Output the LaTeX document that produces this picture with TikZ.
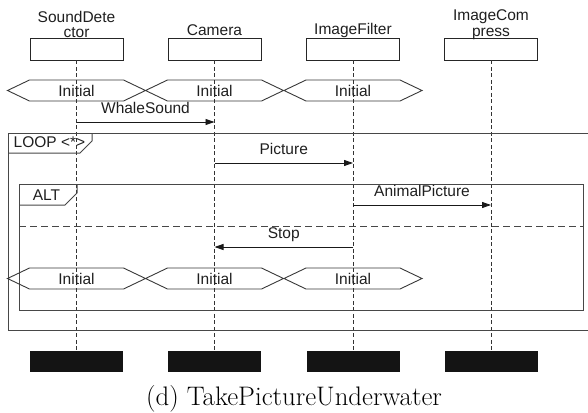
\documentclass[tikz,border=0pt]{standalone}
\usepackage{fontspec}
\setsansfont{Liberation Sans}
\usetikzlibrary{arrows.meta,calc}
\newcommand\hexaround[1]{\draw[hexline] ($(#1)+(-69,0)$) -- ++(22,-10.5) -- ++(94,0) -- ++(22,10.5) -- ++(-22,10.5) -- ++(-94,0) -- cycle;}
\begin{document}
\begin{tikzpicture}[x=1pt,y=-1pt,
  lbl/.style={font=\sffamily\fontsize{15.5}{15.5}\selectfont, inner sep=0pt, text=black!88},
  mlbl/.style={lbl, text height=11pt, text depth=3pt},
  headbox/.style={draw=black!85, line width=0.9pt, minimum width=93pt, minimum height=22pt, inner sep=0pt},
  endbar/.style={fill=black!92, draw=none, minimum width=93pt, minimum height=21pt, inner sep=0pt},
  lifeline/.style={draw=black!80, line width=0.7pt, dash pattern=on 4pt off 2.5pt},
  msg/.style={draw=black!90, line width=0.9pt, -{Triangle[length=9pt,width=6pt]}},
  frameline/.style={draw=black!72, line width=1pt},
  hexline/.style={draw=black!78, line width=0.9pt},
]
\useasboundingbox (0,0) rectangle (588,412);

% heads
\node[headbox] (sd) at (76.5,49) {};
\node[headbox] (cam) at (214.5,49) {};
\node[headbox] (if) at (353,49) {};
\node[headbox] (ic) at (491,49) {};
\node[lbl, align=center] (sdt) at (76.5,24.5) {SoundDete\\[0pt]ctor};
\node[lbl] (camt) at (214.5,30) {Camera};
\node[lbl] (ift) at (353,30) {ImageFilter};
\node[lbl, align=center] (ict) at (491,24.5) {ImageCom\\[0pt]press};

% end bars
\node[endbar] (sde) at (76.5,361.5) {};
\node[endbar] (came) at (214.5,361.5) {};
\node[endbar] (ife) at (353,361.5) {};
\node[endbar] (ice) at (491,361.5) {};

% lifelines
\draw[lifeline] (sd.south) -- (sde.north);
\draw[lifeline] (cam.south) -- (came.north);
\draw[lifeline] (if.south) -- (ife.north);
\draw[lifeline] (ic.south) -- (ice.north);

% initial states row 1
\node[lbl] (ia1) at (76.5,90.5) {Initial};
\node[lbl] (ia2) at (214.5,90.5) {Initial};
\node[lbl] (ia3) at (353,90.5) {Initial};
\hexaround{ia1}\hexaround{ia2}\hexaround{ia3}

% WhaleSound
\coordinate (ws0) at (76.5,122);
\coordinate (ws1) at (214.5,122);
\draw[msg] (ws0) -- node[mlbl, midway, yshift=13pt] (wsl) {WhaleSound} (ws1);

% LOOP frame
\draw[frameline] (592,133) -- (8,133) -- (8,330) -- (592,330);
\draw[frameline] (8,153) -- (80,153) -- (92,141) -- (92,133);
\node[lbl] (loopl) at (49.5,142.5) {LOOP <*>};

% Picture
\coordinate (pc0) at (214.5,163);
\coordinate (pc1) at (353,163);
\draw[msg] (pc0) -- node[mlbl, midway, yshift=13pt] (pcl) {Picture} (pc1);

% ALT frame
\draw[frameline] (19,184) rectangle (583,310);
\draw[frameline] (19,205) -- (65,205) -- (77,193) -- (77,184);
\node[lbl] (altl) at (46.5,195) {ALT};
\draw[frameline, dash pattern=on 7pt off 4pt] (19,226.5) -- (583,226.5);

% AnimalPicture
\coordinate (ap0) at (353,205);
\coordinate (ap1) at (491,205);
\draw[msg] (ap0) -- node[mlbl, midway, yshift=13pt] (apl) {AnimalPicture} (ap1);

% Stop
\coordinate (st0) at (353,247);
\coordinate (st1) at (214.5,247);
\draw[msg] (st0) -- node[mlbl, midway, yshift=13pt] (stl) {Stop} (st1);

% initial states row 2
\node[lbl] (ib1) at (76.5,278.5) {Initial};
\node[lbl] (ib2) at (214.5,278.5) {Initial};
\node[lbl] (ib3) at (353,278.5) {Initial};
\hexaround{ib1}\hexaround{ib2}\hexaround{ib3}

% caption
\node[font=\fontsize{26.8}{30}\selectfont, inner sep=0pt] (cap) at (294,399) {(d) TakePictureUnderwater};
\end{tikzpicture}
\end{document}
